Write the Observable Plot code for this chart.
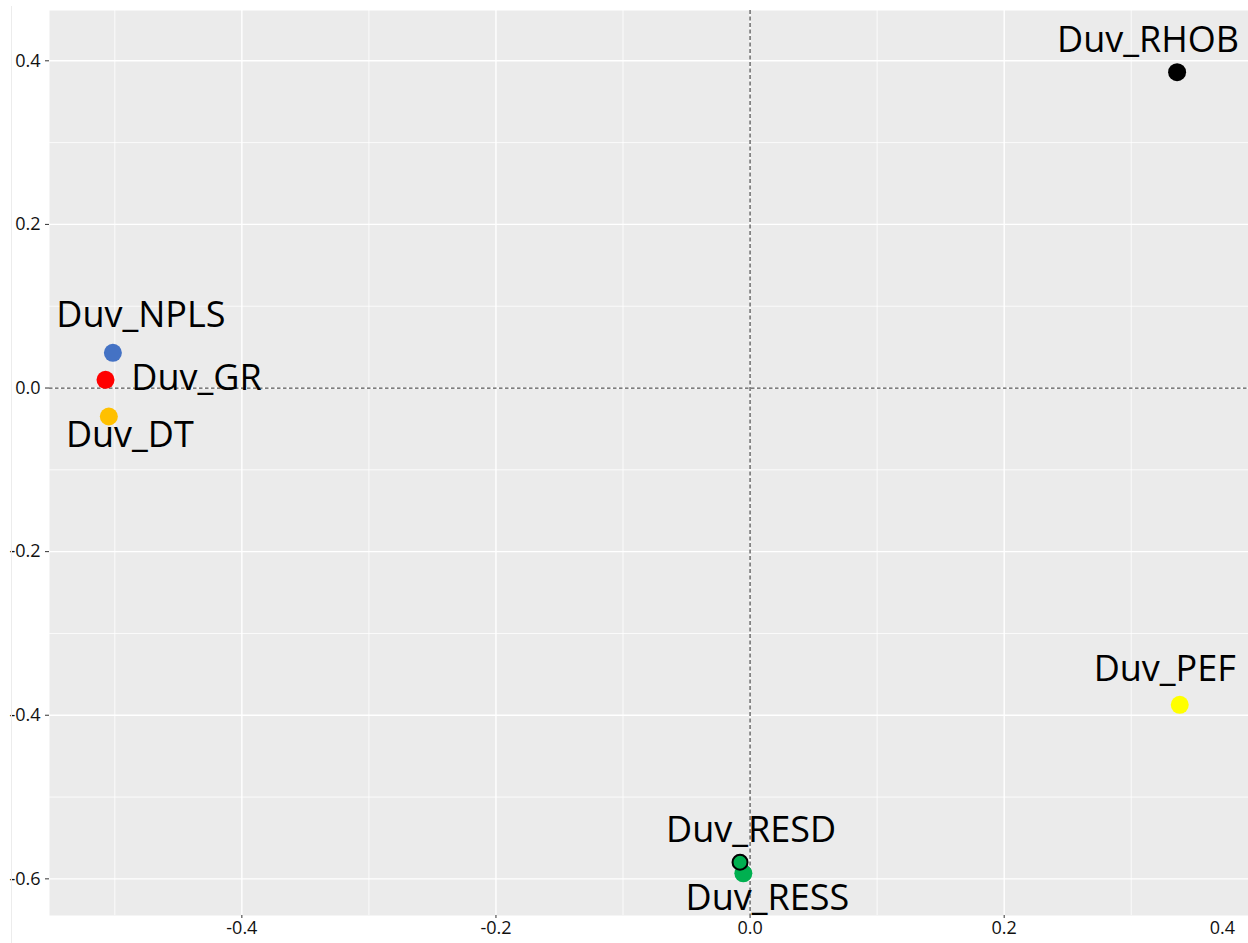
<!DOCTYPE html>
<html>
<head>
<meta charset="utf-8">
<script src="https://cdn.jsdelivr.net/npm/d3@7"></script>
<script src="https://cdn.jsdelivr.net/npm/@observablehq/plot@0.6"></script>
<style>
  html, body { margin: 0; padding: 0; background: #ffffff; overflow: hidden; }
  #wrap { position: relative; width: 1248px; height: 943px; }
  #edge { position: absolute; left: 11px; top: 6px; bottom: 0; border-left: 1px solid #ececec; }
  svg { display: block; }
</style>
</head>
<body>
<div id="wrap"><div id="edge"></div></div>
<script>
// Variable loadings on the first two components
const variables = ["Duv_RHOB", "Duv_NPLS", "Duv_GR", "Duv_DT", "Duv_PEF", "Duv_RESS", "Duv_RESD"];
const dim1 = [0.3361, -0.5015, -0.5073, -0.5047, 0.3382, -0.0053, -0.0079];
const dim2 = [0.3861, 0.0430, 0.0100, -0.0348, -0.3873, -0.5932, -0.5797];
const pointColors = ["#000000", "#4472C4", "#FF0000", "#FFC000", "#FFFF00", "#00B050", "#00B050"];
const outlined = [false, false, false, false, false, false, true];

// Tick values
const xTicks = [-0.4, -0.2, 0.0, 0.2];
const xMinor = [-0.5, -0.3, -0.1, 0.1, 0.3];
const yTicks = [-0.6, -0.4, -0.2, 0.0, 0.2, 0.4];
const yMinor = [-0.5, -0.3, -0.1, 0.1, 0.3];

// Label placement relative to each point (pixels), repel-style
const labelOffsets = {
  "Duv_RHOB": [-29, -32],
  "Duv_NPLS": [28, -37],
  "Duv_GR": [91, -1],
  "Duv_DT": [21, 19],
  "Duv_PEF": [-15, -35],
  "Duv_RESS": [24, 25],
  "Duv_RESD": [11, -32]
};

const rows = variables.map((v, i) => ({
  name: v, x: dim1[i], y: dim2[i], color: pointColors[i], outlined: outlined[i]
}));

const fmt = d => d.toFixed(1);
const font = "'Open Sans', 'Noto Sans', sans-serif";

const chart = Plot.plot({
  width: 1248,
  height: 943,
  marginLeft: 49,
  marginRight: 0,
  marginTop: 10,
  marginBottom: 28,
  style: { fontFamily: font, background: "transparent", overflow: "visible" },
  x: { domain: [-0.5514, 0.3923] },
  y: { domain: [-0.6448, 0.4615] },
  marks: [
    Plot.frame({ fill: "#EBEBEB", stroke: null }),
    Plot.gridX(xMinor, { stroke: "#ffffff", strokeOpacity: 1, strokeWidth: 0.8 }),
    Plot.gridY(yMinor, { stroke: "#ffffff", strokeOpacity: 1, strokeWidth: 0.8 }),
    Plot.gridX(xTicks, { stroke: "#ffffff", strokeOpacity: 1, strokeWidth: 1.4 }),
    Plot.gridY(yTicks, { stroke: "#ffffff", strokeOpacity: 1, strokeWidth: 1.4 }),
    Plot.ruleY([0], { stroke: "#555555", strokeWidth: 1.3, strokeDasharray: "3.5,2.5" }),
    Plot.ruleX([0], { stroke: "#555555", strokeWidth: 1.3, strokeDasharray: "4,2.5" }),
    Plot.axisY(yTicks, {
      tickSize: 4, tickPadding: 5, tickFormat: fmt, fontSize: 18,
      stroke: "#333333", fill: "#111111", label: null
    }),
    Plot.axisX(xTicks, {
      tickSize: 3, tickPadding: 3, tickFormat: fmt, fontSize: 18,
      stroke: "#333333", fill: "#111111", label: null
    }),
    // last tick sits just past the right edge; keep its label inside the page
    Plot.axisX([0.4], {
      tickSize: 0, tickPadding: 6, tickFormat: fmt, fontSize: 18, dx: -36,
      fill: "#111111", label: null
    }),
    Plot.dot(rows.filter(d => !d.outlined), {
      x: "x", y: "y", r: 9, fill: "color", stroke: null
    }),
    Plot.dot(rows.filter(d => d.outlined), {
      x: "x", y: "y", r: 7.5, fill: "color", stroke: "#000000", strokeWidth: 2
    }),
    ...rows.map(d => Plot.text([d], {
      x: "x", y: "y", text: "name",
      dx: labelOffsets[d.name][0], dy: labelOffsets[d.name][1],
      fontSize: 36, fill: "#000000", textAnchor: "middle", lineAnchor: "middle"
    }))
  ]
});

document.getElementById("wrap").appendChild(chart);
</script>
</body>
</html>
